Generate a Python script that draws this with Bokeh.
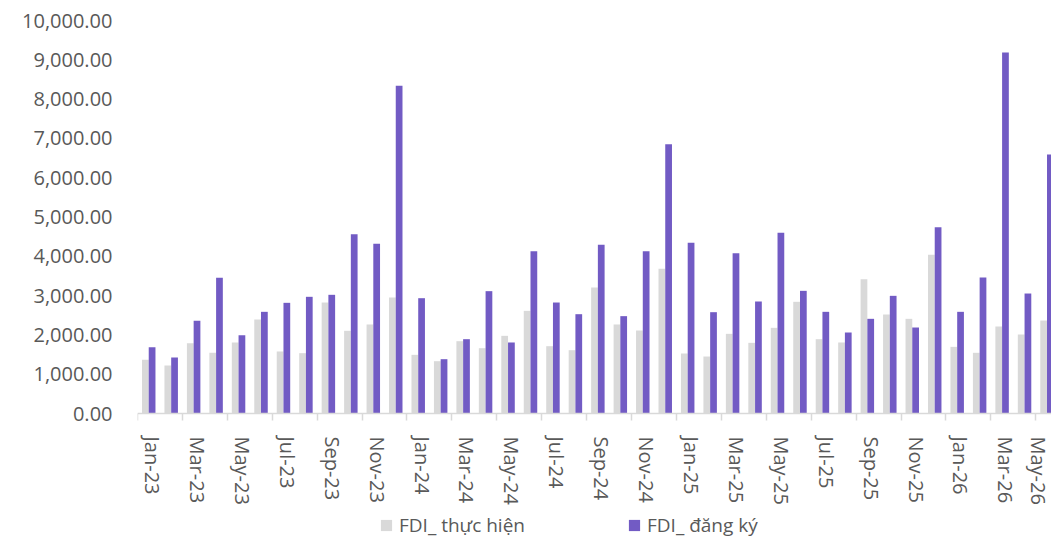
import numpy as np
from bokeh.plotting import figure
from bokeh.models import (ColumnDataSource, FixedTicker, NumeralTickFormatter, Range1d,
                          Legend, LegendItem)
from bokeh.embed import file_html
from bokeh.resources import INLINE

months = ["Jan-23", "Feb-23", "Mar-23", "Apr-23", "May-23", "Jun-23", "Jul-23", "Aug-23",
          "Sep-23", "Oct-23", "Nov-23", "Dec-23", "Jan-24", "Feb-24", "Mar-24", "Apr-24",
          "May-24", "Jun-24", "Jul-24", "Aug-24", "Sep-24", "Oct-24", "Nov-24", "Dec-24",
          "Jan-25", "Feb-25", "Mar-25", "Apr-25", "May-25", "Jun-25", "Jul-25", "Aug-25",
          "Sep-25", "Oct-25", "Nov-25", "Dec-25", "Jan-26", "Feb-26", "Mar-26", "Apr-26",
          "May-26"]
fdi_thuc_hien = [1366, 1221, 1789, 1544, 1807, 2392, 1578, 1535, 2824, 2104, 2265, 2952,
                 1493, 1331, 1840, 1662, 1976, 2612, 1713, 1611, 3206, 2265, 2112, 3681,
                 1527, 1450, 2027, 1798, 2180, 2842, 1891, 1807, 3418, 2519, 2409, 4038,
                 1696, 1544, 2214, 2010, 2366]
fdi_dang_ky = [1687, 1425, 2358, 3452, 1993, 2587, 2816, 2969, 3020, 4563, 4317, 8338,
               2934, 1382, 1891, 3113, 1807, 4130, 2824, 2527, 4292, 2477, 4130, 6853,
               4343, 2578, 4079, 2850, 4597, 3121, 2587, 2061, 2409, 2994, 2188, 4741,
               2587, 3461, 9186, 3053, 6590]
y_ticks = [0, 1000, 2000, 3000, 4000, 5000, 6000, 7000, 8000, 9000, 10000]
series_names = ["FDI_ thực hiện", "FDI_ đăng ký"]

GREY = "#d9d9d9"
PURPLE = "#725bc4"
TEXT = "#595959"
FONT = "Open Sans"

centers = np.arange(len(months)) + 0.5
src = ColumnDataSource(dict(
    x1=centers - 0.15, x2=centers + 0.15,
    a=fdi_thuc_hien, b=fdi_dang_ky,
))

# frame spans to the bottom of the canvas; the x axis sits at y = 0
W, H, TOP, ZERO_Y = 1051, 538, 20, 413
y_min = -(H - ZERO_Y) / (ZERO_Y - TOP) * 10000

p = figure(width=W, height=H, output_backend="svg", toolbar_location=None,
           x_range=Range1d(0, 40.7), y_range=Range1d(y_min, 10000),
           min_border_left=137, min_border_right=0, min_border_top=TOP,
           min_border_bottom=0)
p.outline_line_color = None
p.grid.visible = False

r1 = p.vbar(x="x1", top="a", width=0.3, source=src, fill_color=GREY, line_color=None)
r2 = p.vbar(x="x2", top="b", width=0.3, source=src, fill_color=PURPLE, line_color=None)

# y axis
p.yaxis.ticker = FixedTicker(ticks=y_ticks)
p.yaxis.formatter = NumeralTickFormatter(format="0,0.00")
p.yaxis.axis_line_color = None
p.yaxis.major_tick_line_color = None
p.yaxis.minor_tick_line_color = None
p.yaxis.major_tick_out = 0
p.yaxis.major_label_standoff = 25
p.yaxis.major_label_text_font = FONT
p.yaxis.major_label_text_font_size = "20px"
p.yaxis.major_label_text_color = TEXT

# x axis: labels at every other category centre (nudged so glyphs look centred),
# tick marks at category boundaries
label_pos = [float(c) + 0.17 for c in centers[::2]]
p.xaxis.fixed_location = 0
p.xaxis.ticker = FixedTicker(ticks=label_pos,
                             minor_ticks=[float(v) for v in np.arange(0, len(months) + 1, 2)])
p.xaxis.major_label_overrides = {c: months[i * 2] for i, c in enumerate(label_pos)}
p.xaxis.major_label_orientation = "vertical"
p.xaxis.axis_line_color = GREY
p.xaxis.axis_line_width = 1.5
p.xaxis.major_tick_line_color = None
p.xaxis.major_tick_out = 0
p.xaxis.major_tick_in = 0
p.xaxis.minor_tick_line_color = GREY
p.xaxis.minor_tick_line_width = 1.5
p.xaxis.minor_tick_out = 7
p.xaxis.minor_tick_in = 0
p.xaxis.major_label_standoff = 16
p.xaxis.major_label_text_font = FONT
p.xaxis.major_label_text_font_size = "20px"
p.xaxis.major_label_text_color = TEXT

legend = Legend(items=[LegendItem(label=series_names[0], renderers=[r1]),
                       LegendItem(label=series_names[1], renderers=[r2])],
                orientation="horizontal", location=(242, 0),
                glyph_width=14, glyph_height=14, label_standoff=6, spacing=102,
                padding=0, margin=0, border_line_color=None, background_fill_alpha=0,
                label_text_font=FONT, label_text_font_size="19px", label_text_color=TEXT,
                label_height=19)
p.add_layout(legend, "center")

open("out.html", "w").write(file_html(p, INLINE))
